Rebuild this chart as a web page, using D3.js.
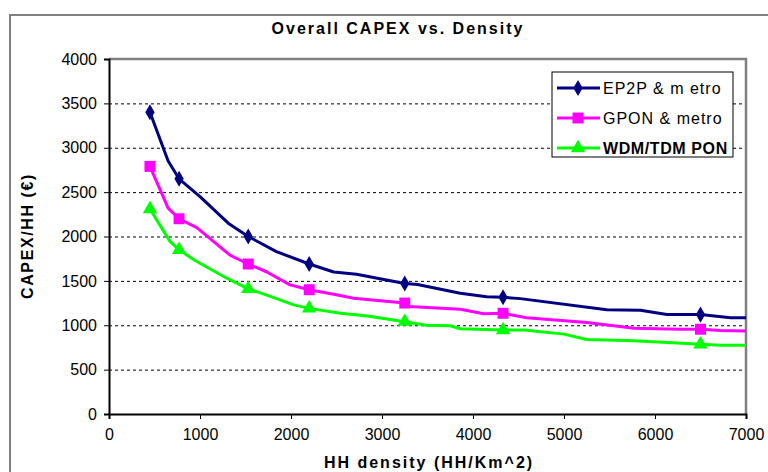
<!DOCTYPE html>
<meta charset="utf-8">
<script src="https://d3js.org/d3.v7.min.js"></script>
<style>
  body { margin: 0; background: #fff; }
  text { font-family: "Liberation Sans", Arial, sans-serif; }
</style>
<div id="chart"></div>
<script>

// densities (HH/Km^2) where the markers sit
var markedDensities = [450, 770, 1530, 2200, 3250, 4330, 6500];

// [density, capex per HH]
var ep2p = [[450,3400],[650,2850],[770,2650],[1000,2450],[1310,2150],[1530,2000],[1840,1830],
  [2200,1690],[2470,1600],[2720,1575],[3250,1470],[3390,1460],[3860,1360],[4150,1320],
  [4330,1315],[4520,1300],[5470,1175],[5840,1170],[6130,1120],[6500,1120],[6830,1085],[7000,1085]];
var gpon = [[450,2790],[650,2320],[770,2200],[965,2100],[1330,1790],[1530,1690],[1735,1600],
  [1990,1455],[2200,1400],[2470,1350],[2690,1305],[3250,1250],[3300,1210],[3860,1180],
  [4120,1130],[4330,1135],[4590,1085],[5250,1030],[5770,965],[6280,955],[6500,955],[6720,940],[7000,935]];
var wdm = [[450,2310],[670,1945],[770,1850],[946,1730],[1295,1530],[1530,1410],[1735,1340],
  [2030,1230],[2200,1190],[2545,1135],[2840,1105],[3250,1040],[3490,1000],[3750,995],
  [3860,960],[4330,946],[4560,946],[5000,900],[5250,840],[5770,825],[6500,785],[6720,776],[7000,776]];

var seriesNames = ["EP2P & m etro", "GPON & metro", "WDM/TDM PON"];
var xTicks = [0, 1000, 2000, 3000, 4000, 5000, 6000, 7000];
var yTicks = [0, 500, 1000, 1500, 2000, 2500, 3000, 3500, 4000];

var series = [
  {name: seriesNames[0], data: ep2p, color: "#000080", symbol: d3.symbolDiamond, size: 75, bold: false},
  {name: seriesNames[1], data: gpon, color: "#ff00ff", symbol: d3.symbolSquare, size: 120, bold: false},
  {name: seriesNames[2], data: wdm, color: "#00ff00", symbol: d3.symbolTriangle, size: 90, bold: true}
];

var W = 768, H = 472;
var svg = d3.select("#chart").append("svg")
  .attr("width", W).attr("height", H);

// outer chart frame
svg.append("rect")
  .attr("x", 10).attr("y", 15).attr("width", 800).attr("height", 500)
  .attr("fill", "none").attr("stroke", "#808080").attr("stroke-width", 2);

var x = d3.scaleLinear().domain([0, 7000]).range([109, 746]);
var y = d3.scaleLinear().domain([0, 4000]).range([414, 59]);

// grid lines
svg.append("g").selectAll("line")
  .data(yTicks.filter(function(d) { return d > 0 && d < 4000; }))
  .enter().append("line")
  .attr("x1", x(0)).attr("x2", x(7000))
  .attr("y1", function(d) { return y(d) + 0.5; })
  .attr("y2", function(d) { return y(d) + 0.5; })
  .attr("stroke", "#000").attr("stroke-width", 1)
  .attr("stroke-dasharray", "3,3");

// plot area border (top and right in gray)
svg.append("path")
  .attr("d", "M" + x(0) + "," + y(4000) + "H" + x(7000) + "V" + y(0))
  .attr("fill", "none").attr("stroke", "#808080").attr("stroke-width", 2.5);

// axes
var xAxis = svg.append("g")
  .attr("transform", "translate(0," + y(0) + ")")
  .call(d3.axisBottom(x).tickValues(xTicks).tickSize(5).tickPadding(10).tickFormat(d3.format("d")));
var yAxis = svg.append("g")
  .attr("transform", "translate(" + x(0) + ",0)")
  .call(d3.axisLeft(y).tickValues(yTicks).tickSize(5).tickPadding(7).tickFormat(d3.format("d")));

[xAxis, yAxis].forEach(function(a) {
  a.select(".domain").attr("stroke", "#000").attr("stroke-width", 2);
  a.selectAll(".tick line").attr("stroke", "#000");
  a.selectAll(".tick text")
    .attr("font-family", "'Liberation Sans', Arial, sans-serif")
    .attr("font-size", 16).attr("fill", "#000");
});

// lines and markers
var line = d3.line()
  .x(function(d) { return x(d[0]); })
  .y(function(d) { return y(d[1]); });

series.forEach(function(s) {
  svg.append("path")
    .datum(s.data)
    .attr("d", line)
    .attr("fill", "none")
    .attr("stroke", s.color)
    .attr("stroke-width", 3)
    .attr("stroke-linejoin", "round");

  svg.append("g").selectAll("path")
    .data(s.data.filter(function(d) { return markedDensities.indexOf(d[0]) >= 0; }))
    .enter().append("path")
    .attr("d", d3.symbol().type(s.symbol).size(s.size))
    .attr("transform", function(d) { return "translate(" + x(d[0]) + "," + y(d[1]) + ")"; })
    .attr("fill", s.color);
});

// title and axis titles
svg.append("text")
  .attr("x", 398).attr("y", 34)
  .attr("text-anchor", "middle")
  .attr("font-size", 16).attr("font-weight", "bold")
  .attr("letter-spacing", 2)
  .text("Overall CAPEX vs. Density");

svg.append("text")
  .attr("x", 429).attr("y", 468)
  .attr("text-anchor", "middle")
  .attr("font-size", 16).attr("font-weight", "bold")
  .attr("letter-spacing", 2)
  .text("HH density (HH/Km^2)");

svg.append("text")
  .attr("transform", "translate(33,236) rotate(-90)")
  .attr("text-anchor", "middle")
  .attr("font-size", 16).attr("font-weight", "bold")
  .attr("letter-spacing", 1.6)
  .text("CAPEX/HH (€)");

// legend
var legend = svg.append("g");
legend.append("rect")
  .attr("x", 552).attr("y", 72).attr("width", 181).attr("height", 85)
  .attr("fill", "#fff").attr("stroke", "#000").attr("stroke-width", 1);

series.forEach(function(s, i) {
  var ly = 88 + i * 30;
  legend.append("line")
    .attr("x1", 557).attr("x2", 600).attr("y1", ly).attr("y2", ly)
    .attr("stroke", s.color).attr("stroke-width", 3);
  legend.append("path")
    .attr("d", d3.symbol().type(s.symbol).size(s.size))
    .attr("transform", "translate(578," + ly + ")")
    .attr("fill", s.color);
  legend.append("text")
    .attr("x", 603).attr("y", ly + 6)
    .attr("font-size", 16)
    .attr("letter-spacing", s.bold ? 0.6 : 1)
    .attr("font-weight", s.bold ? "bold" : "normal")
    .text(s.name);
});

</script>
